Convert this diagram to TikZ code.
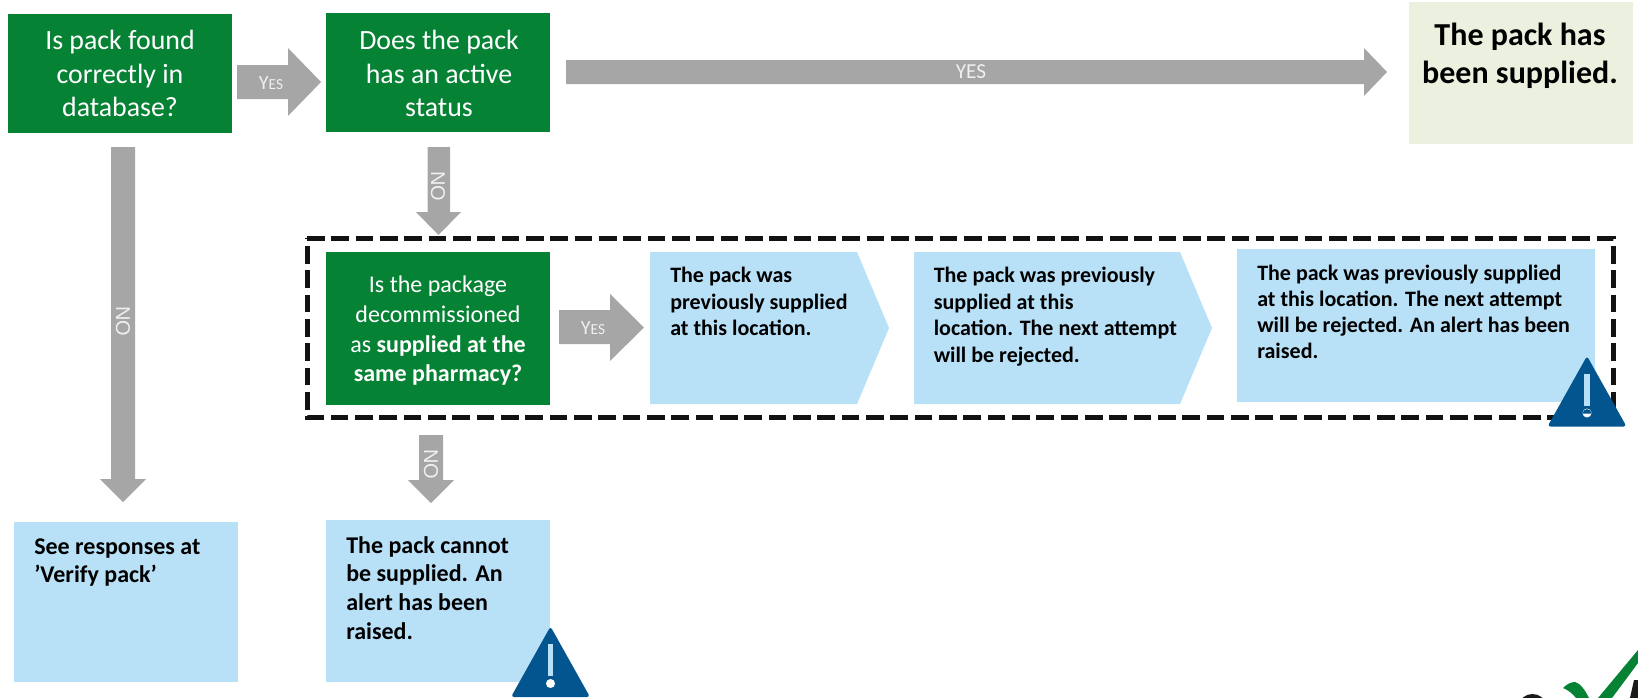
\documentclass[tikz,border=0pt]{standalone}
\usepackage{fontspec}
\setmainfont{Carlito}
\newfontfamily\arialf{Liberation Sans}
\usetikzlibrary{calc}
\definecolor{greenbox}{HTML}{068235}
\definecolor{bluebox}{HTML}{B8E0F7}
\definecolor{okbox}{HTML}{EBF1DE}
\definecolor{arrowgray}{HTML}{A6A6A6}
\definecolor{warnblue}{HTML}{03558F}
\definecolor{labelwhite}{HTML}{F0F0F0}
\definecolor{logodark}{HTML}{1A1A1A}
\newcommand{\yessc}{{\fontsize{15}{15}\selectfont Y}{\fontsize{11.5}{12}\selectfont ES}}
\newcommand{\downblock}[6]{% x1 x2 top headbottom hx1 hx2 ; tip y computed by caller
  \fill[arrowgray] (#1,#3) -- (#2,#3) -- (#2,#4) -- (#6,#4) -- ({(#5+#6)/2},#4+23) -- (#5,#4) -- (#1,#4) -- cycle;}
\newcommand{\rightblock}[7]{% x1 headbase tip ytop ybot headtop headbot
  \fill[arrowgray] (#1,#4) -- (#2,#4) -- (#2,#6) -- (#3,{(#6+#7)/2}) -- (#2,#7) -- (#2,#5) -- (#1,#5) -- cycle;}
\tikzset{
  x=0.75pt,y=-0.75pt,
  boxfill/.style={fill=#1,draw=none},
  greentxt/.style={inner sep=0,text=white,align=center,anchor=north},
  bluetxt/.style={inner sep=0,text=black,align=left,anchor=north west,font=\bfseries},
  nolabel/.style={inner sep=0,text=labelwhite,rotate=-90,font=\arialf\fontsize{15}{15}\selectfont},
  yeslabel/.style={inner sep=0,text=labelwhite},
  warn/.pic={
    \fill[warnblue,rounded corners=2.2pt] (0,-70.5) -- (39.5,0) -- (-39.5,0) -- cycle;
    \fill[bluebox] (-2.8,-53) rectangle (2.8,-21);
    \fill[white] (0,-13.5) circle[radius=4.5];
  },
}
\begin{document}
\begin{tikzpicture}
\useasboundingbox (0,0) rectangle (1638,697);
% boxes
\fill[greenbox] (8,14) rectangle (232,133);
\fill[greenbox] (326,13) rectangle (550,132);
\fill[greenbox] (326,252) rectangle (550,405);
\fill[okbox] (1409,2) rectangle (1633,144);
\fill[bluebox] (14,522) rectangle (238,682);
\fill[bluebox] (326,520) rectangle (550,682);
\fill[bluebox] (650,252) -- (857,252) -- (889,328) -- (857,404) -- (650,404) -- cycle;
\fill[bluebox] (914,252) -- (1180,252) -- (1212,328) -- (1180,404) -- (914,404) -- cycle;
\fill[bluebox] (1237,249) rectangle (1595,402);
% dashed frame
\draw[line width=3.75pt,dash pattern=on 13.25pt off 5pt,color=black!93] (307,238) -- (1613,238) -- (1613,417) -- (307,417) -- cycle;
% arrows
\rightblock{237}{288}{321}{65}{99}{48}{116}
\rightblock{566}{1364}{1387}{60}{84}{48}{96}
\rightblock{559}{610}{644}{310}{344}{294}{361}
\downblock{111}{135}{147}{479}{100}{146}
\downblock{427.5}{450}{147}{212}{416}{461}
\downblock{419}{443}{435}{480}{408}{454}
% arrow labels
\node[yeslabel] (y1) at (271,83) {\yessc};
\node[yeslabel,font=\fontsize{16}{16}\selectfont] (y2) at (971,72) {YES};
\node[yeslabel] (y3) at (593,328) {\yessc};
\node[nolabel] (n1) at (123,321) {NO};
\node[nolabel] (n2) at (438,186) {NO};
\node[nolabel] (n3) at (431,464) {NO};
% text
\node[greentxt,font=\fontsize{20.9}{25.1}\selectfont] (g1) at (120,30) {Is pack found\\correctly in\\database?};
\node[greentxt,font=\fontsize{20.9}{25.1}\selectfont] (g2) at (439,30) {Does the pack\\has an active\\status};
\node[greentxt,font=\fontsize{18}{22.2}\selectfont] (g3) at (438,276) {Is the package\\decommissioned\\as \textbf{supplied at the}\\\textbf{same pharmacy?}};
\node[inner sep=0,text=black,align=center,anchor=north,font=\bfseries\fontsize{24}{28.5}\selectfont] (ok) at (1520,23) {The pack has\\been supplied.};
\node[bluetxt,font=\bfseries\fontsize{18}{21.2}\selectfont] (b1) at (34,538) {See responses at\\’Verify pack’};
\node[bluetxt,font=\bfseries\fontsize{18}{21.5}\selectfont] (b2) at (346,536) {The pack cannot\\be supplied. An\\alert has been\\raised.};
\node[bluetxt,font=\bfseries\fontsize{16.5}{19.9}\selectfont] (b3) at (670,267) {The pack was\\previously supplied\\at this location.};
\node[bluetxt,font=\bfseries\fontsize{16.5}{19.9}\selectfont] (b4) at (933.5,267) {The pack was previously\\supplied at this\\location. The next attempt\\will be rejected.};
\node[bluetxt,font=\bfseries\fontsize{16.5}{19.5}\selectfont] (b5) at (1257,265) {The pack was previously supplied\\at this location. The next attempt\\will be rejected. An alert has been\\raised.};
% warnings
\pic at (1587,426.5) {warn};
\fill[warnblue] (1582.6,413.5) arc[start angle=180,end angle=360,radius=4.4] -- cycle;
\pic at (550.5,697) {warn};
% logo fragment
\begin{scope}
\clip (1500,640) rectangle (1638,697);
\fill[greenbox] (1563,688) .. controls (1567,684) and (1571,682) .. (1575,682) .. controls (1580,683) and (1585,690) .. (1589,698) -- (1576,698) .. controls (1573,694) and (1568,690) .. (1563,688) -- cycle;
\fill[greenbox] (1598,698) -- (1638,650) -- (1638,663) -- (1612,698) -- cycle;
\fill[logodark] (1634,680) -- (1639,680) -- (1639,698) -- (1630,698) -- cycle;
\fill[logodark] (1532.5,705) ellipse[x radius=13,y radius=11];
\end{scope}
\end{tikzpicture}
\end{document}
